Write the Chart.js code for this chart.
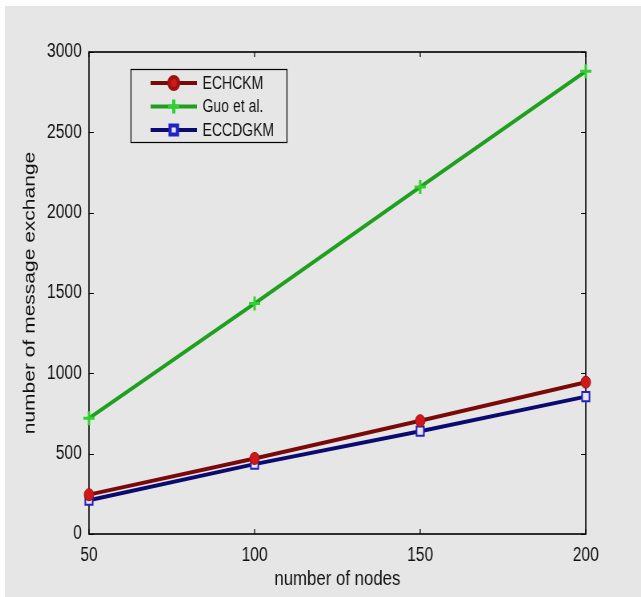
<!DOCTYPE html>
<html>
<head>
<meta charset="utf-8">
<script src="https://cdn.jsdelivr.net/npm/chart.js@4/dist/chart.umd.min.js"></script>
<style>
html, body { margin: 0; padding: 0; background: #fff; overflow: hidden; }
#wrap { position: absolute; left: 5px; top: 6px; width: 636px; height: 591px; background: #e6e6e6; overflow: hidden; }
/* the original figure is squeezed horizontally, so draw wide and squeeze */
#msg { position: absolute; left: 0; top: 0; transform: scaleX(0.8); transform-origin: 0 0; }
</style>
</head>
<body>
<div id="wrap"><canvas id="msg" width="795" height="591"></canvas></div>
<script>
var nodes = [50, 100, 150, 200];
var echckm = [245, 470, 705, 945];
var guo = [720, 1435, 2160, 2880];
var eccdgkm = [210, 435, 640, 855];
var xTicks = [50, 100, 150, 200];
var yTicks = [0, 500, 1000, 1500, 2000, 2500, 3000];

var fam = "'Liberation Sans', Arial, sans-serif";

function pts(vals) {
  return nodes.map(function (n, i) { return { x: n, y: vals[i] }; });
}

// matlab style box with inward ticks + framed legend
var matlabBox = {
  id: "matlabBox",
  beforeDatasetsDraw: function (chart) {
    var c = chart.ctx, a = chart.chartArea;
    var xs = chart.scales.x, ys = chart.scales.y;
    c.save();
    c.strokeStyle = "#000";
    c.lineWidth = 1.6;
    c.strokeRect(a.left, a.top, a.right - a.left, a.bottom - a.top);
    c.lineWidth = 1.2;
    c.beginPath();
    xTicks.forEach(function (v) {
      var px = xs.getPixelForValue(v);
      c.moveTo(px, a.bottom); c.lineTo(px, a.bottom - 5);
      c.moveTo(px, a.top); c.lineTo(px, a.top + 5);
    });
    yTicks.forEach(function (v) {
      var py = Math.round(ys.getPixelForValue(v)) + 0.5;
      c.moveTo(a.left, py); c.lineTo(a.left + 6, py);
      c.moveTo(a.right, py); c.lineTo(a.right - 6, py);
    });
    c.stroke();
    c.restore();
  },
  afterDraw: function (chart) {
    var c = chart.ctx, a = chart.chartArea;
    var bx = a.left + 52, by = a.top + 17, bw = 195, bh = 73;
    c.save();
    c.fillStyle = "#e6e6e6";
    c.fillRect(bx, by, bw, bh);
    c.strokeStyle = "#000";
    c.lineWidth = 1.2;
    c.strokeRect(bx + 0.5, by + 0.5, bw, bh);
    c.font = "17.5px " + fam;
    c.textBaseline = "middle";
    chart.data.datasets.forEach(function (ds, i) {
      var y = by + 14 + i * 23.5;
      c.strokeStyle = ds.borderColor;
      c.lineWidth = ds.borderWidth;
      c.beginPath();
      c.moveTo(bx + 25, y); c.lineTo(bx + 83, y);
      c.stroke();
      c.fillStyle = ds.pointBackgroundColor;
      c.strokeStyle = ds.pointBorderColor;
      Chart.helpers.drawPoint(c, {
        pointStyle: ds.pointStyle, radius: ds.pointRadius,
        borderWidth: ds.pointBorderWidth, rotation: 0
      }, bx + 54, y);
      c.fillStyle = "#111";
      c.fillText(ds.label, bx + 90, y + 1);
    });
    c.restore();
  }
};

new Chart(document.getElementById("msg"), {
  type: "line",
  data: {
    datasets: [{
      label: "ECHCKM",
      data: pts(echckm),
      borderColor: "#7a0a0a",
      borderWidth: 4,
      pointStyle: "circle",
      pointRadius: 6,
      pointBackgroundColor: "#d01818",
      pointBorderColor: "#a01010",
      pointBorderWidth: 1,
      clip: false
    }, {
      label: "Guo et al.",
      data: pts(guo),
      borderColor: "#1ea01e",
      borderWidth: 4,
      pointStyle: "cross",
      pointRadius: 7,
      pointBackgroundColor: "#30d030",
      pointBorderColor: "#30d030",
      pointBorderWidth: 3,
      clip: false
    }, {
      label: "ECCDGKM",
      data: pts(eccdgkm),
      borderColor: "#0a0a70",
      borderWidth: 4,
      pointStyle: "rect",
      pointRadius: 6.5,
      pointBackgroundColor: "#e6e6e6",
      pointBorderColor: "#2020c8",
      pointBorderWidth: 2,
      clip: false
    }]
  },
  options: {
    responsive: false,
    animation: false,
    layout: { padding: { left: 0, right: 69, top: 46, bottom: 0 } },
    plugins: { legend: { display: false }, tooltip: { enabled: false } },
    elements: { line: { tension: 0 } },
    scales: {
      x: {
        type: "linear",
        min: 50, max: 200,
        afterBuildTicks: function (s) { s.ticks = xTicks.map(function (v) { return { value: v }; }); },
        afterFit: function (s) { s.height = 63; },
        grid: { display: false, drawTicks: false },
        border: { display: false },
        ticks: { color: "#111", padding: 10, font: { family: fam, size: 19.5 }, callback: function (v) { return String(v); } },
        title: { display: true, text: "number of nodes", color: "#111", padding: { top: 0, bottom: 5 }, font: { family: fam, size: 21 } }
      },
      y: {
        min: 0, max: 3000,
        afterBuildTicks: function (s) { s.ticks = yTicks.map(function (v) { return { value: v }; }); },
        afterFit: function (s) { s.width = 105; },
        grid: { display: false, drawTicks: false },
        border: { display: false },
        ticks: { color: "#111", padding: 9, font: { family: fam, size: 19.5 }, callback: function (v) { return String(v); } },
        title: { display: true, text: "number of message exchange", color: "#111", padding: { top: 19, bottom: 0 }, font: { family: fam, size: 21 } }
      }
    }
  },
  plugins: [matlabBox]
});
</script>
</body>
</html>
